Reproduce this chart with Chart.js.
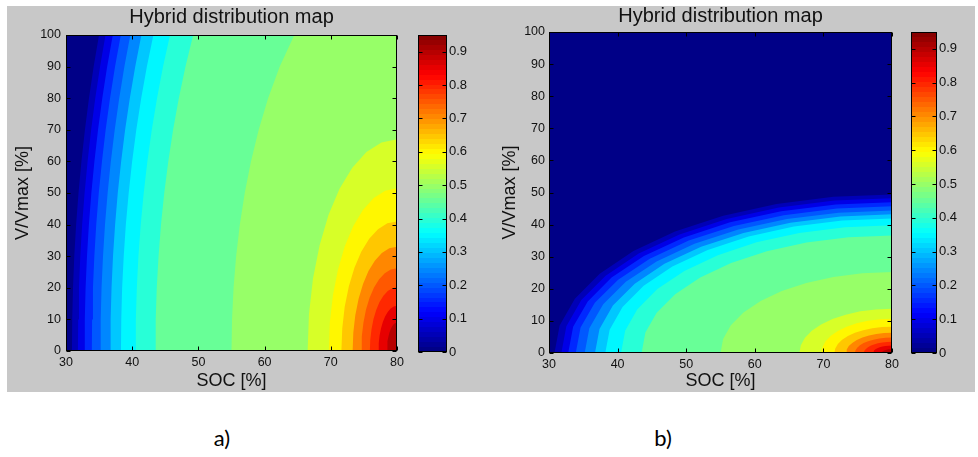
<!DOCTYPE html>
<html>
<head>
<meta charset="utf-8">
<script src="https://cdn.jsdelivr.net/npm/chart.js@4.4.1/dist/chart.umd.min.js"></script>
<style>
html,body{margin:0;padding:0;background:#fff;}
#wrap{position:relative;width:978px;height:457px;overflow:hidden;}
#fig{position:absolute;left:7px;top:6px;width:968px;height:386px;background:#c8c8c8;}
canvas{position:absolute;}
.lab{position:absolute;top:424px;width:40px;text-align:center;line-height:28px;font:22px Lato,'Open Sans',sans-serif;color:#000;}
</style>
</head>
<body>
<div id="wrap">
  <div id="fig"></div>
  <canvas id="mapA" width="403" height="386" style="left:7px;top:6px"></canvas>
  <canvas id="barA" width="70" height="386" style="left:410px;top:6px"></canvas>
  <canvas id="mapB" width="415" height="386" style="left:490px;top:6px"></canvas>
  <canvas id="barB" width="70" height="386" style="left:905px;top:6px"></canvas>
  <div class="lab" style="left:202px">a)</div>
  <div class="lab" style="left:643px">b)</div>
</div>
<script>
var TITLE='Hybrid distribution map', X_TITLE='SOC [%]', Y_TITLE='V/Vmax [%]';
var X_MIN=30, X_MAX=80, Y_MIN=0, Y_MAX=100, C_MAX=0.95;
var X_TICKS=[30,40,50,60,70,80];
var Y_TICKS=[0,10,20,30,40,50,60,70,80,90,100];
var CB_TICKS=[0,0.1,0.2,0.3,0.4,0.5,0.6,0.7,0.8,0.9];
var CB_LABELS=['0','0.1','0.2','0.3','0.4','0.5','0.6','0.7','0.8','0.9'];
var INK='#111';

// a) contour lines that cross the whole height: SOC at each V row
var V_ROWS=[0,10,20,30,40,50,60,70,80,90,100];
var A_CURVE_LEVELS=[0.05,0.10,0.15,0.20,0.25,0.30,0.35,0.40,0.45,0.50];
var A_CURVE_SOC=[
  [30.90,30.94,31.06,31.25,31.53,31.89,32.33,32.86,33.47,34.18,34.99],
  [31.80,31.84,31.96,32.16,32.44,32.81,33.26,33.80,34.42,35.15,35.97],
  [32.80,32.84,32.96,33.17,33.46,33.83,34.29,34.84,35.48,36.22,37.07],
  [33.90,33.94,34.07,34.28,34.57,34.95,35.43,35.99,36.65,37.41,38.28],
  [35.20,35.24,35.37,35.59,35.89,36.29,36.77,37.36,38.04,38.82,39.72],
  [36.70,36.74,36.88,37.10,37.42,37.82,38.33,38.93,39.64,40.46,41.39],
  [38.30,38.35,38.48,38.72,39.04,39.47,39.99,40.62,41.36,42.22,43.20],
  [40.50,40.55,40.70,40.94,41.29,41.74,42.29,42.96,43.75,44.66,45.71],
  [43.50,43.55,43.71,43.98,44.35,44.84,45.45,46.18,47.04,48.05,49.21],
  [55.00,55.08,55.31,55.70,56.26,57.00,57.94,59.11,60.53,62.29,64.49]
];
// a) closed arcs round the bottom-right corner
var A_ARC_LEVELS=[0.55,0.60,0.65,0.70,0.75,0.80,0.85,0.90];
var A_ARC_SOC=[
  [66.50,66.70,67.31,68.31,69.66,71.32,73.25,75.38,77.65,80],
  [69.70,69.85,70.32,71.08,72.11,73.38,74.85,76.48,78.21,80],
  [71.60,71.73,72.10,72.73,73.57,74.60,75.80,77.13,78.54,80],
  [73.30,73.40,73.70,74.20,74.87,75.69,76.65,77.71,78.83,80],
  [74.60,74.68,74.93,75.32,75.86,76.53,77.30,78.15,79.06,80],
  [75.90,75.96,76.15,76.45,76.86,77.36,77.95,78.60,79.29,80],
  [77.20,77.24,77.37,77.58,77.86,78.20,78.60,79.04,79.51,80],
  [78.50,78.52,78.59,78.70,78.85,79.04,79.25,79.49,79.74,80]
];
var A_ARC_V=[
  [0,11.66,22.91,33.5,43.08,51.32,58.02,62.98,66.0,67.0],
  [0,8.96,17.61,25.75,33.11,39.45,44.6,48.41,50.73,51.5],
  [0,7.13,14.02,20.5,26.36,31.41,35.51,38.54,40.39,41.0],
  [0,5.74,11.29,16.5,21.22,25.28,28.58,31.02,32.5,33.0],
  [0,4.56,8.96,13.1,16.84,20.07,22.69,24.62,25.8,26.2],
  [0,3.51,6.91,10.1,12.98,15.47,17.49,18.99,19.89,20.2],
  [0,2.49,4.89,7.15,9.19,10.95,12.38,13.44,14.08,14.3],
  [0,1.57,3.08,4.5,5.79,6.89,7.79,8.46,8.86,9.0]
];
// b) every contour is an arc from the SOC axis to the right edge
var B_ARC_LEVELS=[0.05,0.10,0.15,0.20,0.25,0.30,0.35,0.40,0.45,0.50,0.55,0.60,0.65,0.70,0.75,0.80,0.85,0.90];
var B_ARC_SOC=[
  [30.80,31.55,33.77,37.39,42.31,48.37,55.40,63.17,71.46,80],
  [31.80,32.53,34.71,38.26,43.08,49.02,55.90,63.52,71.63,80],
  [32.80,33.52,35.65,39.12,43.84,49.66,56.40,63.86,71.81,80],
  [33.90,34.60,36.68,40.08,44.69,50.37,56.95,64.23,72.00,80],
  [35.20,35.88,37.90,41.20,45.68,51.20,57.60,64.68,72.22,80],
  [36.70,37.36,39.31,42.50,46.83,52.17,58.35,65.19,72.48,80],
  [38.20,38.84,40.72,43.80,47.98,53.13,59.10,65.70,72.74,80],
  [40.50,41.10,42.88,45.79,49.74,54.61,60.25,66.49,73.14,80],
  [43.50,44.05,45.70,48.39,52.04,56.54,61.75,67.52,73.66,80],
  [55.00,55.38,56.51,58.35,60.85,63.93,67.50,71.45,75.66,80],
  [66.50,66.71,67.31,68.31,69.66,71.32,73.25,75.38,77.66,80],
  [69.70,69.86,70.32,71.08,72.11,73.38,74.85,76.48,78.21,80],
  [71.60,71.73,72.11,72.73,73.57,74.60,75.80,77.13,78.54,80],
  [73.30,73.40,73.70,74.20,74.87,75.69,76.65,77.71,78.84,80],
  [74.60,74.68,74.93,75.32,75.86,76.53,77.30,78.15,79.06,80],
  [75.90,75.96,76.15,76.45,76.86,77.36,77.95,78.60,79.29,80],
  [77.20,77.24,77.37,77.58,77.86,78.20,78.60,79.04,79.51,80],
  [78.50,78.52,78.59,78.70,78.85,79.04,79.25,79.49,79.74,80]
];
var B_ARC_V=[
  [0,8.58,16.89,24.7,31.75,37.84,42.78,46.42,48.65,49.4],
  [0,8.37,16.48,24.1,30.98,36.92,41.74,45.29,47.47,48.2],
  [0,8.16,16.07,23.5,30.21,36.0,40.7,44.17,46.29,47.0],
  [0,7.93,15.63,22.85,29.38,35.01,39.58,42.94,45.01,45.7],
  [0,7.71,15.18,22.2,28.54,34.01,38.45,41.72,43.73,44.4],
  [0,7.5,14.77,21.6,27.77,33.09,37.41,40.6,42.54,43.2],
  [0,7.27,14.33,20.95,26.93,32.1,36.29,39.37,41.26,41.9],
  [0,6.91,13.61,19.9,25.58,30.49,34.47,37.4,39.2,39.8],
  [0,6.35,12.52,18.3,23.53,28.04,31.7,34.39,36.04,36.6],
  [0,4.37,8.62,12.6,16.2,19.3,21.82,23.68,24.82,25.2],
  [0,2.4,4.72,6.9,8.87,10.57,11.95,12.97,13.59,13.8],
  [0,1.86,3.66,5.35,6.88,8.2,9.27,10.05,10.54,10.7],
  [0,1.42,2.8,4.1,5.27,6.28,7.1,7.71,8.08,8.2],
  [0,1.09,2.15,3.15,4.05,4.83,5.46,5.92,6.2,6.3],
  [0,0.83,1.64,2.4,3.09,3.68,4.16,4.51,4.73,4.8],
  [0,0.61,1.2,1.75,2.25,2.68,3.03,3.29,3.45,3.5],
  [0,0.4,0.79,1.15,1.48,1.76,1.99,2.16,2.27,2.3],
  [0,0.21,0.41,0.6,0.77,0.92,1.04,1.13,1.18,1.2]
];

Chart.defaults.font.family="'Liberation Sans', Arial, Helvetica, sans-serif";

// matlab jet, 64 steps
var clamp=function(v){return Math.max(0,Math.min(1,v));};
function jet(x){
  var c=function(v){return Math.round(255*clamp(v));};
  return 'rgb('+c(1.5-Math.abs(4*x-3))+','+c(1.5-Math.abs(4*x-2))+','+c(1.5-Math.abs(4*x-1))+')';
}
function levelColor(L){var i=Math.min(63,Math.floor(L/C_MAX*64+1e-9));return jet((i+0.5)/64);}

function band(L,pts){
  return {data:pts,fill:'shape',backgroundColor:levelColor(L),borderColor:'rgba(0,0,0,0)',borderWidth:0,pointRadius:0,pointHoverRadius:0,tension:0};
}
function arcSets(levels,socs,vs){
  var out=[];
  for(var i=levels.length-1;i>=0;i--){
    var pts=socs[i].map(function(x,k){return {x:x,y:vs[i][k]};});
    pts.push({x:X_MAX,y:Y_MIN});
    out.push(band(levels[i],pts));
  }
  return out;
}
function baseSet(){return band(0,[{x:X_MIN,y:Y_MIN},{x:X_MIN,y:Y_MAX},{x:X_MAX,y:Y_MAX},{x:X_MAX,y:Y_MIN}]);}

// box + inward tick marks like matlab axes
var frame={
  id:'frame',
  afterDraw:function(chart,args,opts){
    var ctx=chart.ctx, a=chart.chartArea, sx=chart.scales.x, sy=chart.scales.y;
    var L=Math.round(a.left)+0.5, R=Math.round(a.right)-0.5, T=Math.round(a.top)+0.5, B=Math.round(a.bottom)-0.5, tl=4;
    ctx.save(); ctx.strokeStyle='#000'; ctx.lineWidth=1; ctx.beginPath();
    if(opts.xTicks) sx.ticks.forEach(function(t){var p=Math.round(sx.getPixelForValue(t.value))+0.5;ctx.moveTo(p,B);ctx.lineTo(p,B-tl);ctx.moveTo(p,T);ctx.lineTo(p,T+tl);});
    sy.ticks.forEach(function(t){var p=Math.round(sy.getPixelForValue(t.value))+0.5;ctx.moveTo(L,p);ctx.lineTo(L+tl,p);ctx.moveTo(R,p);ctx.lineTo(R-tl,p);});
    ctx.stroke(); ctx.strokeRect(L,T,R-L,B-T); ctx.restore();
  }
};

function mapChart(id,sets,lay){
  return new Chart(document.getElementById(id),{
    type:'line',
    data:{datasets:sets},
    plugins:[frame],
    options:{
      responsive:false, animation:false, events:[],
      layout:{padding:{left:0,right:lay.right,top:0,bottom:0}},
      plugins:{
        legend:{display:false}, tooltip:{enabled:false},
        title:{display:true,fullSize:false,text:TITLE,color:INK,font:{size:20,weight:'normal',lineHeight:1},padding:lay.titlePad},
        frame:{xTicks:true}
      },
      scales:{
        x:{type:'linear',min:X_MIN,max:X_MAX,grid:{display:false,drawTicks:false},border:{display:false},
           afterBuildTicks:function(s){s.ticks=X_TICKS.map(function(v){return {value:v};});},
           afterFit:function(s){s.height=lay.xh;},
           ticks:{color:INK,font:{size:12.5},padding:4,maxRotation:0,autoSkip:false},
           title:{display:true,text:X_TITLE,color:INK,font:{size:18},padding:{top:0,bottom:0}}},
        y:{type:'linear',min:Y_MIN,max:Y_MAX,grid:{display:false,drawTicks:false},border:{display:false},
           afterBuildTicks:function(s){s.ticks=Y_TICKS.map(function(v){return {value:v};});},
           afterFit:function(s){s.width=lay.yw;},
           ticks:{color:INK,font:{size:12.5},padding:lay.yPad,autoSkip:false},
           title:{display:true,text:Y_TITLE,color:INK,font:{size:18},padding:{top:lay.yTitlePad,bottom:0}}}
      }
    }
  });
}

function colorBar(id,lay){
  return new Chart(document.getElementById(id),{
    type:'bar',
    data:{labels:['c'],datasets:[{data:[[0,C_MAX]],barPercentage:1,categoryPercentage:1,borderWidth:0,
      backgroundColor:function(c){
        var ch=c.chart; if(!ch.chartArea) return 'rgba(0,0,0,0)';
        var sy=ch.scales.y, g=ch.ctx.createLinearGradient(0,sy.getPixelForValue(0),0,sy.getPixelForValue(C_MAX));
        for(var i=0;i<64;i++){var col=jet((i+0.5)/64);g.addColorStop(i/64,col);g.addColorStop((i+1)/64,col);}
        return g;
      }}]},
    plugins:[frame],
    options:{
      responsive:false, animation:false, events:[],
      layout:{padding:{left:lay.left,right:0,top:lay.top,bottom:lay.bottom}},
      plugins:{legend:{display:false},tooltip:{enabled:false},frame:{xTicks:false}},
      scales:{
        x:{display:false},
        y:{position:'right',min:0,max:C_MAX,grid:{display:false,drawTicks:false},border:{display:false},
           afterBuildTicks:function(s){s.ticks=CB_TICKS.map(function(v){return {value:v};});},
           afterFit:function(s){s.width=lay.yw;},
           ticks:{color:INK,font:{size:13},padding:2,autoSkip:false,callback:function(v,i){return CB_LABELS[i];}}}
      }
    }
  });
}

var setsA=arcSets(A_ARC_LEVELS,A_ARC_SOC,A_ARC_V);
for(var i=A_CURVE_LEVELS.length-1;i>=0;i--){
  var pts=A_CURVE_SOC[i].map(function(x,k){return {x:x,y:V_ROWS[k]};});
  pts.push({x:X_MAX,y:Y_MAX},{x:X_MAX,y:Y_MIN});
  setsA.push(band(A_CURVE_LEVELS[i],pts));
}
setsA.push(baseSet());
var setsB=arcSets(B_ARC_LEVELS,B_ARC_SOC,B_ARC_V);
setsB.push(baseSet());

mapChart('mapA',setsA,{right:13,titlePad:{top:1,bottom:8},xh:41,yw:59,yPad:5,yTitlePad:5});
mapChart('mapB',setsB,{right:13,titlePad:{top:0,bottom:6},xh:39,yw:59,yPad:4,yTitlePad:9});
colorBar('barA',{left:8,top:29,bottom:40,yw:33});
colorBar('barB',{left:6,top:26,bottom:39,yw:38});
</script>
</body>
</html>
